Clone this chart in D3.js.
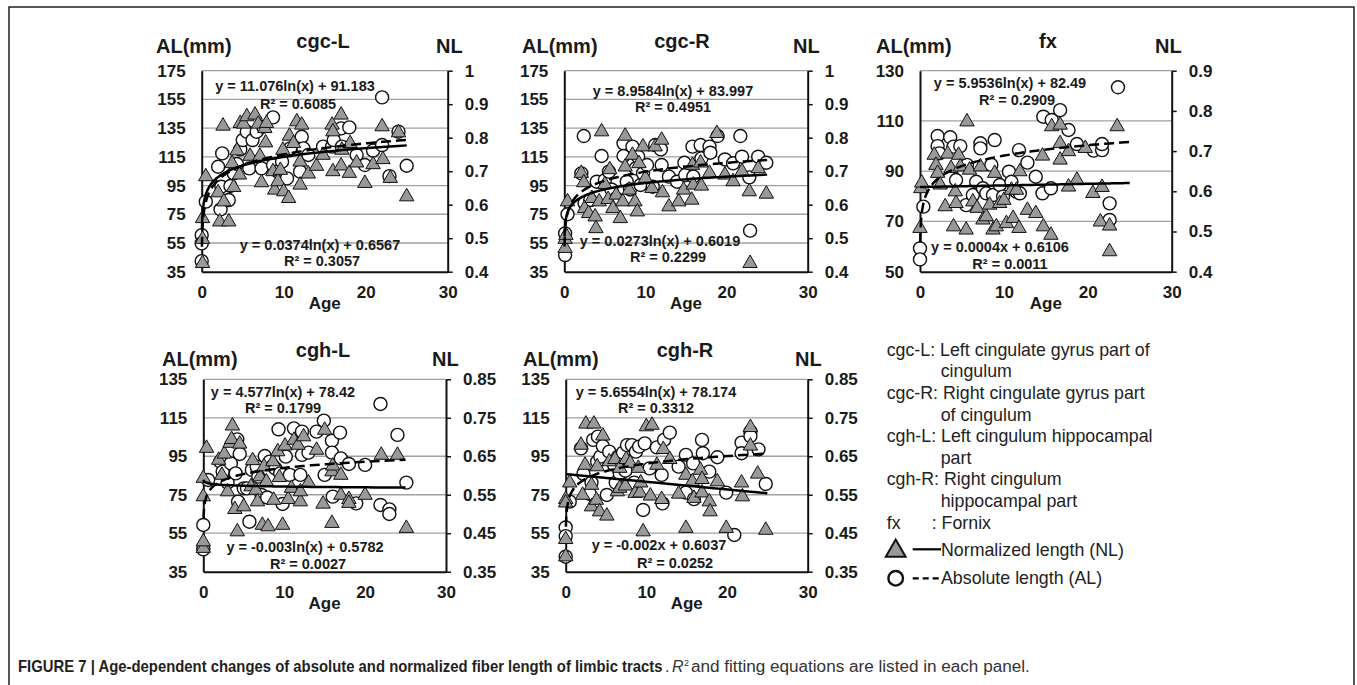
<!DOCTYPE html>
<html>
<head>
<meta charset="utf-8">
<script src="https://cdn.jsdelivr.net/npm/d3@7"></script>
<style>
  body { margin: 0; background: #fff; }
  svg { display: block; font-family: Arial, "Liberation Sans", sans-serif; }
</style>
</head>
<body>
<div id="fig"></div>
<script>
// ---- data: [age, value] ----
var ageTicks = [0, 10, 20, 30];
var fitAgeRange = [0.03, 25];

var cgcAlTicks = [35, 55, 75, 95, 115, 135, 155, 175];
var cgcNlTicks = [0.4, 0.5, 0.6, 0.7, 0.8, 0.9, 1];
var fxAlTicks = [50, 70, 90, 110, 130];
var fxNlTicks = [0.4, 0.5, 0.6, 0.7, 0.8, 0.9];
var cghAlTicks = [35, 55, 75, 95, 115, 135];
var cghNlTicks = [0.35, 0.45, 0.55, 0.65, 0.75, 0.85];

var cgcL_nl = [[0.1,0.425],[0.1,0.497],[0.1,0.559],[0.5,0.684],[2.0,0.636],[2.2,0.549],[2.6,0.835],[2.7,0.609],[3.3,0.549],[3.7,0.723],[3.9,0.652],[4.3,0.761],[4.6,0.689],[4.7,0.843],[5.1,0.841],[5.5,0.863],[5.9,0.745],[6.5,0.868],[6.9,0.841],[7.1,0.745],[7.3,0.666],[7.7,0.828],[7.9,0.843],[7.8,0.785],[8.7,0.699],[8.9,0.644],[9.3,0.669],[9.6,0.703],[9.9,0.763],[10.0,0.639],[10.6,0.619],[10.7,0.805],[11.2,0.783],[11.6,0.848],[12.2,0.838],[12.0,0.728],[12.0,0.659],[13.0,0.692],[14.0,0.715],[14.8,0.748],[15.9,0.838],[16.0,0.818],[16.0,0.699],[17.0,0.868],[17.0,0.716],[17.1,0.763],[18.0,0.694],[18.1,0.783],[18.9,0.725],[19.9,0.664],[20.9,0.720],[22.0,0.833],[22.1,0.735],[23.0,0.679],[24.0,0.815],[25.0,0.624]];
var cgcL_al = [[0.0,60.5],[0.0,54.7],[0.0,42.4],[0.5,83.8],[2.0,108.1],[2.3,78.4],[2.5,117.4],[2.4,94.2],[3.3,84.9],[3.5,94.7],[3.9,103.5],[4.3,110],[4.7,120.2],[5.0,126.7],[5.5,132.5],[5.8,107],[6.2,126.7],[6.7,132.5],[7.3,107],[7.5,136],[8.7,142.5],[8.7,109.3],[9.3,104.7],[9.8,111.6],[10.4,100],[10.8,120.9],[12.2,129],[12.0,104.7],[12.4,120.9],[13.0,116.3],[14.8,122.1],[15.9,122.1],[16.1,126.7],[17.0,134.8],[17.1,122.1],[18.0,135.5],[18.9,116.3],[19.9,109.3],[20.9,119.3],[22.0,156.4],[22.0,123.2],[22.9,101.6],[24.0,132.5],[25.0,108.8]];
var cgcL_fitNL = ["ln", 0.0374, 0.6567];
var cgcL_fitAL = ["ln", 11.076, 91.183];
var cgcL_eq = ["y = 11.076ln(x) + 91.183", "R\u00b2 = 0.6085", "y = 0.0374ln(x) + 0.6567", "R\u00b2 = 0.3057"];

var cgcR_nl = [[0.1,0.470],[0.1,0.497],[0.2,0.509],[0.4,0.609],[2.1,0.694],[2.4,0.666],[2.5,0.589],[3.0,0.574],[3.4,0.619],[3.8,0.564],[3.9,0.529],[4.3,0.609],[4.6,0.818],[5.0,0.661],[5.4,0.616],[5.6,0.705],[6.0,0.589],[6.4,0.629],[6.9,0.559],[7.2,0.609],[7.5,0.805],[7.5,0.713],[8.0,0.644],[8.4,0.748],[8.7,0.609],[9.0,0.579],[9.2,0.723],[9.7,0.773],[10.0,0.679],[10.8,0.649],[11.2,0.773],[12.0,0.793],[12.1,0.636],[12.9,0.594],[14.1,0.609],[14.7,0.644],[15.7,0.614],[15.8,0.718],[15.9,0.659],[16.8,0.725],[16.9,0.656],[17.9,0.694],[18.8,0.813],[19.8,0.689],[20.8,0.669],[21.9,0.699],[22.8,0.639],[22.9,0.425],[23.9,0.708],[24.9,0.632]];
var cgcR_al = [[0.1,46.6],[0.1,61.7],[0.4,75],[2.1,103.5],[2.4,129.5],[2.5,82.6],[3.2,84.9],[4.0,97.7],[4.6,115.6],[5.0,98.8],[5.5,104.7],[5.8,92.3],[6.4,86.1],[7.3,124.4],[7.3,115.6],[7.7,97.7],[8.1,92.3],[8.4,122.1],[8.8,107],[9.1,115.1],[9.4,95.4],[9.7,103.5],[10.2,109.3],[10.9,94.2],[11.2,123.2],[11.9,120.2],[12.0,109.3],[12.9,101.2],[13.9,97.7],[14.8,110.9],[14.9,102.3],[15.8,122.1],[15.9,101.2],[16.8,123.2],[16.9,113.9],[17.9,122.1],[18.0,117.9],[18.9,129.5],[19.8,113.2],[20.8,110.5],[21.7,129.5],[21.9,115.1],[22.8,100.7],[22.9,63.6],[23.9,115.1],[24.9,110.9]];
var cgcR_fitNL = ["ln", 0.0273, 0.6019];
var cgcR_fitAL = ["ln", 8.9584, 83.997];
var cgcR_eq = ["y = 8.9584ln(x) + 83.997", "R\u00b2 = 0.4951", "y = 0.0273ln(x) + 0.6019", "R\u00b2 = 0.2299"];

var fx_nl = [[0.0,0.508],[0.1,0.607],[0.2,0.621],[1.7,0.690],[1.9,0.665],[2.1,0.645],[2.4,0.616],[3.0,0.562],[3.3,0.693],[3.7,0.657],[4.0,0.512],[4.2,0.599],[4.3,0.570],[4.6,0.690],[4.8,0.661],[5.5,0.504],[5.6,0.773],[5.9,0.653],[6.3,0.574],[6.8,0.558],[7.2,0.661],[7.5,0.529],[7.9,0.537],[8.3,0.566],[8.7,0.504],[8.9,0.645],[9.1,0.512],[9.5,0.570],[10.0,0.578],[10.3,0.520],[10.9,0.603],[11.1,0.533],[11.5,0.603],[11.8,0.508],[11.9,0.649],[12.8,0.553],[13.8,0.545],[14.6,0.688],[14.7,0.512],[15.6,0.491],[15.7,0.761],[16.7,0.765],[16.7,0.678],[16.7,0.719],[17.7,0.699],[17.7,0.611],[18.7,0.628],[19.7,0.707],[20.6,0.595],[21.7,0.610],[21.5,0.524],[22.6,0.514],[22.6,0.450],[23.5,0.761]];
var fx_al = [[0.0,59.3],[0.0,54.9],[0.4,75.9],[2.1,104],[2.1,100],[2.3,97.1],[3.6,103.5],[4.0,99.8],[4.3,86.5],[4.8,100],[5.5,76.5],[5.6,92.5],[6.3,80.5],[6.7,85.8],[7.2,101.1],[7.2,99.1],[7.5,83.2],[7.9,81.2],[8.5,92.5],[8.7,80.5],[8.9,102.4],[9.5,84.5],[9.9,79.9],[10.6,89.8],[10.9,85.8],[11.5,81.8],[11.8,98.4],[11.9,81.2],[12.8,93.4],[13.8,87.8],[14.6,81.2],[14.7,111.7],[15.6,83.2],[15.7,110.4],[16.7,114.3],[17.7,106.4],[18.7,100.8],[20.7,98.2],[21.7,98.4],[21.7,100.8],[22.6,77.2],[22.6,70.6],[23.6,123.4]];
var fx_fitNL = ["lin", 0.0004, 0.6106];
var fx_fitAL = ["ln", 5.9536, 82.49];
var fx_eq = ["y = 5.9536ln(x) + 82.49", "R\u00b2 = 0.2909", "y = 0.0004x + 0.6106", "R\u00b2 = 0.0011"];

var cghL_nl = [[0.0,0.411],[0.0,0.428],[0.0,0.545],[0.0,0.593],[0.4,0.671],[1.9,0.640],[2.3,0.601],[2.6,0.656],[3.0,0.558],[3.3,0.684],[3.6,0.729],[3.5,0.694],[3.9,0.512],[4.2,0.454],[4.5,0.682],[5.0,0.519],[5.9,0.571],[6.1,0.639],[6.5,0.562],[6.7,0.532],[7.0,0.597],[7.3,0.471],[7.5,0.623],[7.8,0.584],[8.0,0.467],[8.6,0.636],[8.7,0.536],[9.2,0.662],[9.4,0.595],[9.8,0.471],[10.1,0.677],[10.5,0.538],[10.9,0.567],[11.2,0.692],[11.7,0.679],[12.0,0.532],[12.0,0.558],[12.4,0.701],[13.0,0.581],[14.0,0.666],[14.8,0.526],[15.0,0.718],[15.9,0.476],[15.9,0.610],[16.0,0.625],[17.0,0.549],[17.0,0.601],[18.0,0.538],[18.0,0.528],[20.0,0.549],[22.0,0.653],[24.0,0.653],[25.1,0.463]];
var cghL_al = [[0.0,59.3],[0.0,46.6],[0.6,82.7],[2.1,92.2],[2.4,87],[3.0,81.3],[3.4,91.3],[4.0,86.1],[4.2,103.8],[4.3,71.4],[4.5,96.2],[5.0,78.3],[5.4,78.3],[5.7,61],[6.0,87.9],[6.6,89.6],[6.8,84.4],[7.2,74.9],[7.6,95.1],[7.9,73.6],[8.2,92.2],[8.6,90],[8.9,88.7],[9.3,109],[9.5,86.1],[9.8,70.2],[10.2,94.8],[10.7,85.3],[11.2,109.5],[12.0,85.3],[12.2,107.8],[12.2,95.7],[13.0,96.9],[14.0,107.8],[14.9,113.5],[15.0,85.3],[15.9,103.1],[15.9,96.9],[16.0,74],[16.9,107.3],[17.0,93.9],[18.0,91],[18.9,70.5],[20.0,90.5],[21.9,122.2],[21.9,69.7],[23.0,67.4],[23.0,65],[24.0,106.1],[25.1,81.3]];
var cghL_fitNL = ["ln", -0.003, 0.5782];
var cghL_fitAL = ["ln", 4.577, 78.42];
var cghL_eq = ["y = 4.577ln(x) + 78.42", "R\u00b2 = 0.1799", "y = -0.003ln(x) + 0.5782", "R\u00b2 = 0.0027"];

var cghR_nl = [[0.0,0.389],[0.0,0.434],[0.0,0.538],[0.0,0.529],[0.5,0.581],[1.9,0.679],[2.1,0.549],[2.4,0.627],[2.5,0.734],[3.2,0.575],[3.2,0.519],[3.5,0.734],[3.8,0.536],[3.9,0.623],[4.2,0.506],[4.6,0.703],[5.1,0.495],[5.4,0.636],[6.1,0.642],[6.4,0.558],[6.7,0.567],[6.7,0.619],[7.4,0.573],[7.5,0.642],[8.0,0.632],[8.6,0.554],[9.0,0.619],[9.2,0.555],[9.3,0.581],[9.6,0.454],[10.0,0.727],[10.7,0.731],[10.5,0.547],[11.3,0.627],[11.9,0.538],[12.1,0.668],[12.9,0.642],[14.0,0.552],[14.9,0.463],[14.9,0.601],[15.7,0.584],[15.9,0.541],[16.7,0.614],[16.9,0.555],[16.9,0.590],[17.8,0.532],[17.9,0.506],[18.8,0.584],[19.9,0.463],[21.8,0.581],[21.9,0.545],[22.9,0.725],[22.9,0.677],[23.8,0.604],[24.8,0.458]];
var cghR_al = [[0.0,58],[0.0,53.5],[0.0,42.8],[0.5,71.4],[1.9,99.1],[2.2,85.8],[3.0,75.4],[3.2,81.3],[3.4,103.5],[3.9,92.2],[4.0,105.2],[4.3,94.8],[4.6,100.3],[5.1,74.9],[5.4,97.4],[6.0,90.5],[6.2,81.3],[6.5,94.8],[6.7,86.1],[7.1,96.9],[7.4,87.5],[7.6,100.8],[8.2,100.8],[8.5,81.3],[8.7,97.4],[9.1,100],[9.6,67.1],[9.8,101.7],[10.4,88.7],[11.3,99.6],[11.9,85.3],[12.0,70.5],[12.2,103.5],[12.9,107.3],[14.0,89.6],[14.9,95.7],[14.9,76.1],[15.8,91.3],[15.9,72.7],[16.9,103.5],[17.0,96.6],[17.8,87],[18.8,94.5],[19.9,76.1],[20.9,54.1],[21.8,102.1],[21.8,96.6],[22.9,107.8],[22.9,105.5],[23.9,98.6],[24.8,80.6]];
var cghR_fitNL = ["lin", -0.002, 0.6037];
var cghR_fitAL = ["ln", 5.6554, 78.174];
var cghR_eq = ["y = 5.6554ln(x) + 78.174", "R\u00b2 = 0.3312", "y = -0.002x + 0.6037", "R\u00b2 = 0.0252"];

var legendLines = [
  ["cgc-L: Left cingulate gyrus part of", 0], ["cingulum", 1],
  ["cgc-R: Right cingulate gyrus part", 0], ["of cingulum", 1],
  ["cgh-L: Left cingulum hippocampal", 0], ["part", 1],
  ["cgh-R: Right cingulum", 0], ["hippocampal part", 1]
];

// ---- layout ----
var W = 1357, H = 685;
var ink = "#1a1a1a";
var fmt1 = function(d) { return d === 1 ? "1" : d3.format(".1f")(d); };
var fmt2 = d3.format(".2f");

var panels = [
  {title: "cgc-L", box: [201.7, 70.7, 447.7, 271.7], al: cgcL_al, nl: cgcL_nl,
   alDom: [35, 175], alTicks: cgcAlTicks, nlDom: [0.4, 1], nlTicks: cgcNlTicks, nlFmt: fmt1,
   fitNL: cgcL_fitNL, fitAL: cgcL_fitAL, eq: cgcL_eq,
   eqPos: [[295, 91], [298, 109], [320, 250], [322, 266]],
   head: {alX: 156, titleX: 323, nlX: 436, y: 53, titleY: 48}},
  {title: "cgc-R", box: [564.3, 70.7, 807.7, 271.7], al: cgcR_al, nl: cgcR_nl,
   alDom: [35, 175], alTicks: cgcAlTicks, nlDom: [0.4, 1], nlTicks: cgcNlTicks, nlFmt: fmt1,
   fitNL: cgcR_fitNL, fitAL: cgcR_fitAL, eq: cgcR_eq,
   eqPos: [[673, 96], [673, 112], [660, 246], [668, 262]],
   head: {alX: 522, titleX: 682, nlX: 793, y: 53, titleY: 48}},
  {title: "fx", box: [920, 70.7, 1171.7, 271.7], al: fx_al, nl: fx_nl,
   alDom: [50, 130], alTicks: fxAlTicks, nlDom: [0.4, 0.9], nlTicks: fxNlTicks, nlFmt: fmt1,
   fitNL: fx_fitNL, fitAL: fx_fitAL, eq: fx_eq,
   eqPos: [[1010, 88], [1017, 105], [1000, 252], [1010, 269]],
   head: {alX: 876, titleX: 1048, nlX: 1155, y: 53, titleY: 48}},
  {title: "cgh-L", box: [203.3, 379.3, 446, 571.7], al: cghL_al, nl: cghL_nl,
   alDom: [35, 135], alTicks: cghAlTicks, nlDom: [0.35, 0.85], nlTicks: cghNlTicks, nlFmt: fmt2,
   fitNL: cghL_fitNL, fitAL: cghL_fitAL, eq: cghL_eq,
   eqPos: [[283, 397], [283, 413], [305, 552], [308, 569]],
   head: {alX: 162, titleX: 323, nlX: 432, y: 366, titleY: 357}},
  {title: "cgh-R", box: [565.7, 379.3, 807.7, 571.7], al: cghR_al, nl: cghR_nl,
   alDom: [35, 135], alTicks: cghAlTicks, nlDom: [0.35, 0.85], nlTicks: cghNlTicks, nlFmt: fmt2,
   fitNL: cghR_fitNL, fitAL: cghR_fitAL, eq: cghR_eq,
   eqPos: [[656, 397], [656, 413], [659, 550], [675, 568]],
   head: {alX: 523, titleX: 685, nlX: 795, y: 366, titleY: 357}}
];

var svg = d3.select("#fig").append("svg").attr("width", W).attr("height", H);

// figure frame (open at the bottom, like the page crop)
svg.append("path").attr("d", "M9," + (H + 5) + "V7H1354V" + (H + 5))
  .attr("fill", "none").attr("stroke", "#231f20").attr("stroke-width", 1.5);

var tri = d3.symbol().type(d3.symbolTriangle).size(90);

function fitFn(f) {
  return f[0] === "ln" ? function(x) { return f[1] * Math.log(x) + f[2]; }
                       : function(x) { return f[1] * x + f[2]; };
}
function fitPoints(f) {
  var x0 = f[0] === "ln" ? fitAgeRange[0] : 0, x1 = fitAgeRange[1], fn = fitFn(f);
  return d3.range(161).map(function(i) {
    var x = f[0] === "ln" ? x0 * Math.pow(x1 / x0, i / 160) : x0 + (x1 - x0) * i / 160;
    return [x, fn(x)];
  });
}

function drawPanel(p) {
  var g = svg.append("g");
  var L = p.box[0], T = p.box[1], R = p.box[2], B = p.box[3];
  var x = d3.scaleLinear().domain([0, 30]).range([L, R]);
  var yL = d3.scaleLinear().domain(p.alDom).range([B, T]);
  var yR = d3.scaleLinear().domain(p.nlDom).range([B, T]);

  // gridlines on the AL scale
  g.selectAll("line.grid").data(p.alTicks.slice(1)).enter().append("line")
    .attr("class", "grid")
    .attr("x1", L).attr("x2", R)
    .attr("y1", function(d) { return yL(d); }).attr("y2", function(d) { return yL(d); })
    .attr("stroke", "#a0a0a0").attr("stroke-width", 1.3);

  // axes
  var ax = g.append("g").attr("transform", "translate(" + L + ",0)")
    .call(d3.axisLeft(yL).tickValues(p.alTicks).tickSize(0).tickSizeOuter(0).tickPadding(16));
  var ar = g.append("g").attr("transform", "translate(" + R + ",0)")
    .call(d3.axisRight(yR).tickValues(p.nlTicks).tickFormat(p.nlFmt).tickSize(5).tickSizeOuter(0).tickPadding(12));
  var ab = g.append("g").attr("transform", "translate(0," + B + ")")
    .call(d3.axisBottom(x).tickValues(ageTicks).tickSize(0).tickSizeOuter(0).tickPadding(14));
  [ax, ar, ab].forEach(function(a) {
    a.select(".domain").attr("stroke", "#111").attr("stroke-width", 2);
    a.selectAll(".tick line").attr("stroke", "#111").attr("stroke-width", 1.5);
    a.selectAll("text").attr("font-size", 17).attr("font-weight", "bold")
      .attr("fill", ink).attr("font-family", "Arial, 'Liberation Sans', sans-serif");
  });

  // markers: AL circles, then NL triangles
  g.selectAll("circle.al").data(p.al).enter().append("circle")
    .attr("class", "al")
    .attr("cx", function(d) { return x(d[0]); })
    .attr("cy", function(d) { return yL(d[1]); })
    .attr("r", 6.5).attr("fill", "#fff").attr("stroke", "#111").attr("stroke-width", 1.4);
  g.selectAll("path.nl").data(p.nl).enter().append("path")
    .attr("class", "nl")
    .attr("d", tri)
    .attr("transform", function(d) { return "translate(" + x(d[0]) + "," + yR(d[1]) + ")"; })
    .attr("fill", "#999").attr("stroke", "#111").attr("stroke-width", 1);

  // trend lines
  g.append("path").datum(fitPoints(p.fitNL))
    .attr("d", d3.line().x(function(d) { return x(d[0]); }).y(function(d) { return yR(d[1]); }))
    .attr("fill", "none").attr("stroke", "#000").attr("stroke-width", 2.5);
  g.append("path").datum(fitPoints(p.fitAL))
    .attr("d", d3.line().x(function(d) { return x(d[0]); }).y(function(d) { return yL(d[1]); }))
    .attr("fill", "none").attr("stroke", "#000").attr("stroke-width", 2.5)
    .attr("stroke-dasharray", "10,5");

  // equations
  g.selectAll("text.eq").data(p.eq).enter().append("text")
    .attr("class", "eq")
    .attr("x", function(d, i) { return p.eqPos[i][0]; })
    .attr("y", function(d, i) { return p.eqPos[i][1]; })
    .attr("text-anchor", "middle").attr("font-size", 14.5).attr("font-weight", "bold")
    .attr("fill", ink).text(function(d) { return d; });

  // headings
  g.append("text").attr("x", p.head.alX).attr("y", p.head.y)
    .attr("font-size", 20).attr("font-weight", "bold").attr("fill", ink).text("AL(mm)");
  g.append("text").attr("x", p.head.titleX).attr("y", p.head.titleY)
    .attr("text-anchor", "middle").attr("font-size", 20).attr("font-weight", "bold").attr("fill", ink).text(p.title);
  g.append("text").attr("x", p.head.nlX).attr("y", p.head.y)
    .attr("font-size", 20).attr("font-weight", "bold").attr("fill", ink).text("NL");
  g.append("text").attr("x", (L + R) / 2).attr("y", B + 37)
    .attr("text-anchor", "middle").attr("font-size", 17).attr("font-weight", "bold").attr("fill", ink).text("Age");
}

panels.forEach(drawPanel);

// ---- legend ----
var lg = svg.append("g").attr("font-size", 17.8).attr("fill", "#222");
lg.selectAll("text.ln").data(legendLines).enter().append("text")
  .attr("class", "ln")
  .attr("x", function(d) { return d[1] ? 940.7 : 886.7; })
  .attr("y", function(d, i) { return 355.7 + i * 21.6; })
  .text(function(d) { return d[0]; });
lg.append("text").attr("x", 886.7).attr("y", 528.5).text("fx");
lg.append("text").attr("x", 931.7).attr("y", 528.5).text(": Fornix");
lg.append("path").attr("d", d3.symbol().type(d3.symbolTriangle).size(170))
  .attr("transform", "translate(895.7,551)")
  .attr("fill", "#999").attr("stroke", "#111").attr("stroke-width", 2);
lg.append("line").attr("x1", 912.7).attr("x2", 941).attr("y1", 549.3).attr("y2", 549.3)
  .attr("stroke", "#000").attr("stroke-width", 2.2);
lg.append("text").attr("x", 941).attr("y", 556).text("Normalized length (NL)");
lg.append("circle").attr("cx", 895.7).attr("cy", 578.3).attr("r", 7.3)
  .attr("fill", "#fff").attr("stroke", "#111").attr("stroke-width", 2.4);
lg.append("line").attr("x1", 912.7).attr("x2", 941).attr("y1", 578.3).attr("y2", 578.3)
  .attr("stroke", "#000").attr("stroke-width", 2.2).attr("stroke-dasharray", "6,4");
lg.append("text").attr("x", 941).attr("y", 584).text("Absolute length (AL)");

// ---- caption (condensed face: squeeze the text horizontally to the measured width) ----
var capY = 672;
function capText(x, y, width, str, opts) {
  var g = svg.append("g").attr("transform", "translate(" + x + "," + y + ")");
  var t = g.append("text").attr("font-size", opts.size || 16).attr("fill", opts.fill || "#333")
    .attr("font-weight", opts.weight || "normal").attr("font-style", opts.style || "normal")
    .text(str);
  if (width) {
    var n = t.node().getComputedTextLength();
    t.attr("transform", "scale(" + (width / n) + ",1)");
  }
  return t;
}
capText(18, capY, 645, "FIGURE 7 | Age-dependent changes of absolute and normalized fiber length of limbic tracts",
  {weight: "bold", fill: "#231f20"});
capText(665, capY, 0, ".", {});
capText(672, capY, 0, "R", {style: "italic"});
capText(684, capY - 6, 0, "2", {size: 9});
capText(691, capY, 339, "and fitting equations are listed in each panel.", {});
</script>
</body>
</html>
